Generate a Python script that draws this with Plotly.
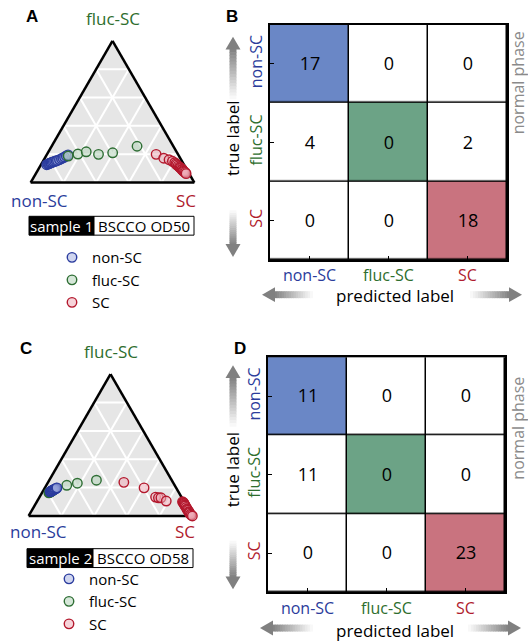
import plotly.graph_objects as go

W, H = 528, 641

# ---------------- data ----------------
classes = ["non-SC", "fluc-SC", "SC"]
class_line = ["#2b3c9e", "#2e6e34", "#b3182d"]
class_fill = ["rgba(150,165,220,0.45)", "rgba(180,212,185,0.55)", "rgba(238,175,185,0.55)"]
label_col = ["#2b3c9b", "#2e6e2e", "#b01c2e"]
cell_colors = ["#6a87c6", "#6ca386", "#c9737f"]

# Panel A (sample 1): fractions of fluc-SC (a) and SC (c); non-SC = remainder
A_non_fluc = [0.126, 0.130, 0.133, 0.135, 0.138, 0.140, 0.143, 0.146, 0.150, 0.152, 0.156, 0.162, 0.168, 0.174, 0.180, 0.188, 0.195]
A_non_sc   = [0.035, 0.040, 0.044, 0.048, 0.052, 0.055, 0.060, 0.066, 0.072, 0.080, 0.086, 0.095, 0.104, 0.110, 0.117, 0.124, 0.131]
A_fluc_fluc = [0.187, 0.201, 0.217, 0.199, 0.210, 0.256]
A_fluc_sc   = [0.136, 0.188, 0.231, 0.315, 0.396, 0.522]
A_sc_fluc = [0.199, 0.172, 0.161, 0.150, 0.140, 0.132, 0.125, 0.118, 0.111, 0.105, 0.100, 0.095, 0.090, 0.085, 0.080, 0.076, 0.070, 0.063]
A_sc_sc   = [0.667, 0.727, 0.765, 0.791, 0.810, 0.821, 0.830, 0.842, 0.853, 0.860, 0.868, 0.878, 0.880, 0.888, 0.893, 0.901, 0.910, 0.918]

# Panel C (sample 2)
C_non_fluc = [0.170, 0.172, 0.175, 0.178, 0.180, 0.183, 0.185, 0.188, 0.191, 0.195, 0.198]
C_non_sc   = [0.046, 0.048, 0.050, 0.053, 0.055, 0.058, 0.061, 0.064, 0.067, 0.071, 0.074]
C_fluc_fluc = [0.163, 0.166, 0.168, 0.170, 0.172, 0.175, 0.178, 0.181, 0.216, 0.231, 0.252]
C_fluc_sc   = [0.042, 0.044, 0.046, 0.048, 0.050, 0.053, 0.056, 0.059, 0.125, 0.182, 0.288]
C_sc_fluc = [0.237, 0.198, 0.133, 0.128, 0.128, 0.105, 0.100, 0.095, 0.090, 0.085, 0.080, 0.075, 0.070, 0.060, 0.050, 0.045, 0.040, 0.030, 0.025, 0.020, 0.012, 0.006, 0.000]
C_sc_sc   = [0.463, 0.606, 0.709, 0.729, 0.744, 0.788, 0.890, 0.897, 0.902, 0.907, 0.912, 0.917, 0.922, 0.932, 0.942, 0.947, 0.953, 0.963, 0.968, 0.973, 0.982, 0.990, 1.000]

# Confusion matrices (rows = true label, cols = predicted label)
counts_B = [[17, 0, 0], [4, 0, 2], [0, 0, 18]]
counts_D = [[11, 0, 0], [11, 0, 0], [0, 0, 23]]

FONT = "Open Sans"


def px(x):
    return x / W


def py(y):
    return 1 - y / H


fig = go.Figure()

# ---------------- ternary plots ----------------
def add_ternary(sub, legend, data, order):
    for k in order:
        a, c = data[k]
        b = [max(0.0, 1 - ai - ci) for ai, ci in zip(a, c)]
        fig.add_trace(go.Scatterternary(
            a=a, b=b, c=c, mode="markers", name=classes[k], subplot=sub,
            legend=legend, legendrank=k + 1, cliponaxis=False,
            marker=dict(symbol="circle", size=9.5, color=class_fill[k],
                        line=dict(color=class_line[k], width=1.4)),
        ))

add_ternary("ternary", "legend",
            [(A_non_fluc, A_non_sc), (A_fluc_fluc, A_fluc_sc), (A_sc_fluc, A_sc_sc)], [0, 1, 2])
add_ternary("ternary2", "legend2",
            [(C_non_fluc, C_non_sc), (C_fluc_fluc, C_fluc_sc), (C_sc_fluc, C_sc_sc)], [1, 0, 2])

tax = dict(showgrid=True, gridcolor="white", gridwidth=1.6, dtick=0.2, tick0=0,
           showticklabels=False, ticks="", linecolor="black", linewidth=2.5,
           title=dict(text=""), min=0, layer="below traces")


def tern_layout(left, right, base):
    w = right - left
    h = w * 3 ** 0.5 / 2
    return dict(domain=dict(x=[px(left), px(right)], y=[py(base), py(base - h)]),
                bgcolor="#e6e6e6", sum=1, aaxis=tax, baxis=tax, caxis=tax)

# ---------------- confusion matrices ----------------
z_diag = [[1, 0, 0], [0, 2, 0], [0, 0, 3]]
cscale = [[0, "white"], [1 / 3, cell_colors[0]], [2 / 3, cell_colors[1]], [1, cell_colors[2]]]

for counts, xa, ya in [(counts_B, "x", "y"), (counts_D, "x2", "y2")]:
    fig.add_trace(go.Heatmap(
        z=z_diag, x=classes, y=classes, text=counts, texttemplate="%{text}",
        textfont=dict(size=18, color="black", family=FONT),
        colorscale=cscale, zmin=0, zmax=3, showscale=False, xgap=1.5, ygap=1.5,
        hoverinfo="skip", xaxis=xa, yaxis=ya, showlegend=False,
    ))

tick_x = [f'<span style="color:{label_col[i]}">{c}</span>' for i, c in enumerate(classes)]

def xax(l, r, anchor):
    return dict(domain=[px(l), px(r)], anchor=anchor, tickmode="array", tickvals=classes,
                ticktext=tick_x, ticks="inside", ticklen=4, tickcolor="black",
                showline=True, mirror=True, linecolor="black", linewidth=2,
                tickfont=dict(size=16, family=FONT), showgrid=False, zeroline=False,
                fixedrange=True, ticklabelstandoff=0)

def yax(t, b, anchor):
    return dict(domain=[py(b), py(t)], anchor=anchor, tickmode="array", tickvals=classes,
                ticktext=tick_x, ticks="inside", ticklen=4, tickcolor="black", tickangle=-90,
                autorange="reversed", showline=True, mirror=True, linecolor="black", linewidth=2,
                tickfont=dict(size=16, family=FONT), showgrid=False, zeroline=False, fixedrange=True)

# ---------------- arrows (decoration) ----------------
def gray(t):
    v = int(round(128 + t * (252 - 128)))
    return f"rgb({v},{v},{v})"


def arrow_shapes(tip, tail, head_len=13, head_w=15, shaft_w=7, n=16):
    out = []
    (tx, ty), (sx, sy) = tip, tail
    if tx == sx:
        d = 1 if sy > ty else -1
        hb = ty + d * head_len
        path = (f"M {px(tx)},{py(ty)} L {px(tx - head_w / 2)},{py(hb)} "
                f"L {px(tx + head_w / 2)},{py(hb)} Z")
        L = abs(sy - hb)
        for i in range(n):
            y0 = hb + d * L * i / n - d * 0.6
            y1 = hb + d * L * (i + 1) / n
            out.append(dict(type="rect", xref="paper", yref="paper",
                            x0=px(tx - shaft_w / 2), x1=px(tx + shaft_w / 2),
                            y0=py(y0), y1=py(y1), fillcolor=gray((i + 0.5) / n), line_width=0))
    else:
        d = 1 if sx > tx else -1
        hb = tx + d * head_len
        path = (f"M {px(tx)},{py(ty)} L {px(hb)},{py(ty - head_w / 2)} "
                f"L {px(hb)},{py(ty + head_w / 2)} Z")
        L = abs(sx - hb)
        for i in range(n):
            x0 = hb + d * L * i / n - d * 0.6
            x1 = hb + d * L * (i + 1) / n
            out.append(dict(type="rect", xref="paper", yref="paper",
                            x0=px(x0), x1=px(x1), y0=py(ty - shaft_w / 2), y1=py(ty + shaft_w / 2),
                            fillcolor=gray((i + 0.5) / n), line_width=0))
    out.append(dict(type="path", xref="paper", yref="paper", path=path,
                    fillcolor=gray(0), line_width=0))
    return out

shapes = []
for tip, tail in [((233, 37), (233, 100)), ((233, 259), (233, 212)),
                  ((262, 297), (313, 297)), ((522, 297), (470, 297)),
                  ((233, 368), (233, 430)), ((233, 594), (233, 545)),
                  ((260, 633), (313, 633)), ((521, 633), (468, 633))]:
    shapes += arrow_shapes(tip, tail)

# sample boxes
def sample_box(x0, xm, x1, y0, y1):
    return [dict(type="rect", xref="paper", yref="paper", x0=px(x0), x1=px(xm), y0=py(y1), y1=py(y0),
                 fillcolor="black", line=dict(color="black", width=1)),
            dict(type="rect", xref="paper", yref="paper", x0=px(xm), x1=px(x1), y0=py(y1), y1=py(y0),
                 fillcolor="white", line=dict(color="black", width=1))]

shapes += sample_box(29, 94, 194, 218, 237)
shapes += sample_box(27, 93, 193, 553, 572)

# ---------------- annotations ----------------
ann = []

def text(x, y, s, size=16, color="black", angle=0, family=FONT):
    ann.append(dict(x=px(x), y=py(y), xref="paper", yref="paper", text=s, showarrow=False,
                    xanchor="center", yanchor="middle", textangle=angle,
                    font=dict(size=size, color=color, family=family)))

for (x, y, s) in [(32, 17, "A"), (232, 17, "B"), (26, 351, "C"), (240, 351, "D")]:
    text(x, y, f"<b>{s}</b>", size=17, family="Liberation Sans")

# ternary vertex labels
text(113, 19, "fluc-SC", 17, label_col[1])
text(39, 202, "non-SC", 17, label_col[0])
text(186, 202, "SC", 17, label_col[2])
text(111, 354, "fluc-SC", 17, label_col[1])
text(38, 536, "non-SC", 17, label_col[0])
text(185, 536, "SC", 17, label_col[2])

# sample labels
text(61.5, 227.5, "sample 1", 15, "white")
text(144, 227.5, "BSCCO OD50", 15)
text(60, 562.5, "sample 2", 15, "white")
text(143, 562.5, "BSCCO OD58", 15)

# confusion-matrix axis texts
text(233, 140, "true label", 17, angle=-90)
text(232, 474, "true label", 17, angle=-90)
text(518, 84, "normal phase", 16, "#8a8a8a", angle=-90)
text(518, 432, "normal phase", 16, "#8a8a8a", angle=-90)
text(395, 298, "predicted label", 17)
text(395, 635, "predicted label", 17)

fig.update_layout(
    width=W, height=H, margin=dict(l=0, r=0, t=0, b=0),
    paper_bgcolor="white", plot_bgcolor="black",
    font=dict(family=FONT, size=16, color="black"),
    ternary=tern_layout(30, 195, 184),
    ternary2=tern_layout(28, 193, 520),
    xaxis=xax(270, 507, "y"), yaxis=yax(25, 262, "x"),
    xaxis2=xax(268, 505, "y2"), yaxis2=yax(360, 597, "x2"),
    legend=dict(x=px(52), y=py(243), xanchor="left", yanchor="top",
                font=dict(size=15, family=FONT), bgcolor="rgba(0,0,0,0)", tracegroupgap=0),
    legend2=dict(x=px(49), y=py(567), xanchor="left", yanchor="top",
                 font=dict(size=15, family=FONT), bgcolor="rgba(0,0,0,0)", tracegroupgap=0),
    shapes=shapes, annotations=ann,
)

fig.write_html("out.html")
